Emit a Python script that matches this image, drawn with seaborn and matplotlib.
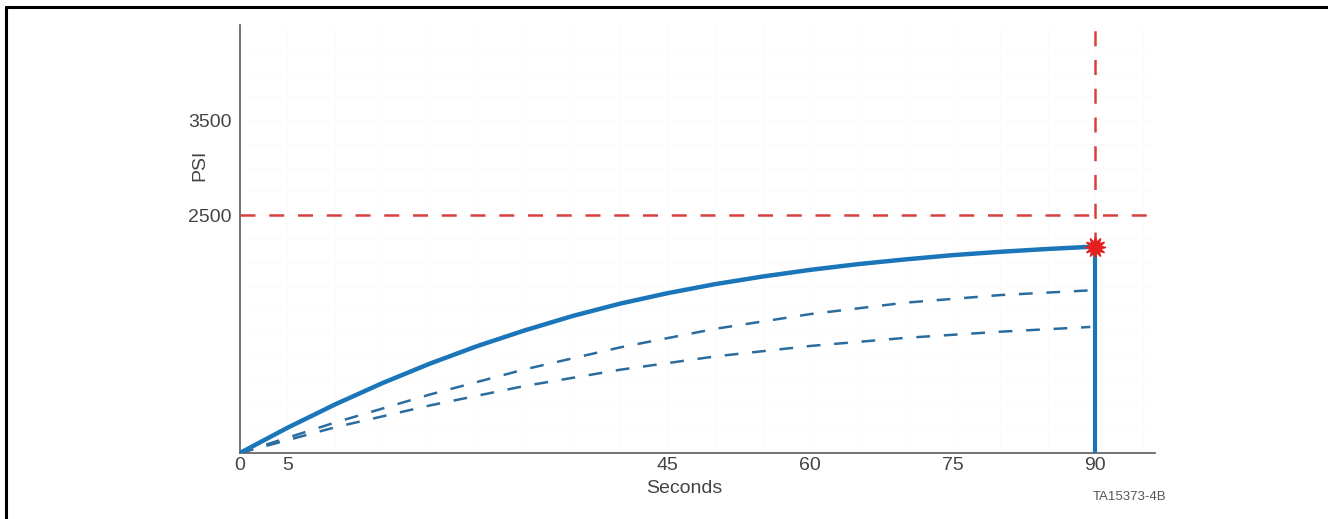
import numpy as np
import pandas as pd
import seaborn as sns
import matplotlib.pyplot as plt
from matplotlib.lines import Line2D

# values
solid_sec = [0, 5, 10, 15, 20, 25, 30, 35, 40, 45, 50, 55, 60, 65, 70, 75, 80, 85, 90]
solid_psi = [0, 265, 510, 735, 940, 1125, 1290, 1440, 1570, 1680, 1775, 1855, 1925, 1985, 2035, 2080, 2115, 2145, 2170]

dash_sec = [0, 10, 20, 30, 40, 50, 60, 70, 80, 89.5]
upper_psi = [0, 320, 615, 880, 1110, 1305, 1460, 1580, 1660, 1710]
lower_psi = [0, 270, 500, 705, 875, 1015, 1125, 1210, 1275, 1325]

limit_psi = 2500
end_sec = 90
end_psi = 2170

x_ticks = [0, 5, 45, 60, 75, 90]
y_ticks = [2500, 3500]

BLUE = "#1a76b9"
DBLUE = "#2b6c9e"
RED = "#d8403f"
GREY = "#5a5a5a"


def main():
    sns.set_theme(style="white")
    plt.rcParams["font.family"] = ["Liberation Sans", "DejaVu Sans"]

    fig = plt.figure(figsize=(13.28, 5.19), dpi=100)
    ax = fig.add_axes([0.1807, 0.1272, 0.689, 0.8247])

    # barely visible background grid
    for yv in np.arange(250, 4500, 250):
        ax.axhline(yv, color="#fbfbfb", lw=0.6, zorder=0)
    for xv in np.arange(5, 96, 5):
        ax.axvline(xv, color="#fbfbfb", lw=0.6, zorder=0)

    df_solid = pd.DataFrame({"sec": solid_sec, "psi": solid_psi})
    df_up = pd.DataFrame({"sec": dash_sec, "psi": upper_psi})
    df_lo = pd.DataFrame({"sec": dash_sec, "psi": lower_psi})

    sns.lineplot(data=df_up, x="sec", y="psi", ax=ax, color=DBLUE, lw=1.8,
                 zorder=3).lines[-1].set_dashes((5.5, 5.5))
    sns.lineplot(data=df_lo, x="sec", y="psi", ax=ax, color=DBLUE, lw=1.8,
                 zorder=3).lines[-1].set_dashes((5.5, 5.5))
    sns.lineplot(data=df_solid, x="sec", y="psi", ax=ax, color=BLUE, lw=3.2, zorder=4)
    ax.lines[-1].set_solid_joinstyle("round")

    # vertical drop at the end of the test
    ax.plot([end_sec, end_sec], [0, end_psi], color=BLUE, lw=3.0, zorder=4,
            solid_capstyle="butt")

    # red limit lines
    ax.plot([0, 96.3], [limit_psi, limit_psi], color=RED, lw=1.8, dashes=(6, 5.5), zorder=2)
    ax.plot([end_sec, end_sec], [end_psi, 4580], color=RED, lw=1.8, dashes=(6, 5.5),
            zorder=2, clip_on=False)
    ax.plot([end_sec], [end_psi], marker=(12, 1, 0), markersize=15, color="#e3201f",
            markeredgecolor="#e3201f", zorder=5, clip_on=False)

    ax.set_xlim(0, 96.3)
    ax.set_ylim(0, 4500)
    ax.set_xticks(x_ticks)
    ax.set_yticks(y_ticks)
    ax.tick_params(axis="both", length=0, labelsize=14, labelcolor="#444444")
    ax.tick_params(axis="x", pad=3)
    ax.tick_params(axis="y", pad=6)
    ax.set_xlabel("")
    ax.set_ylabel("")
    sns.despine(ax=ax)
    for side in ("left", "bottom"):
        ax.spines[side].set_color(GREY)
        ax.spines[side].set_linewidth(1.2)

    ax.text(0.486, -0.082, "Seconds", transform=ax.transAxes, ha="center", va="center",
            fontsize=14, color="#444444")
    ax.text(-0.044, 0.673, "PSI", transform=ax.transAxes, ha="center", va="center",
            rotation=90, fontsize=14, color="#444444")
    fig.text(1130 / 1328, 1 - 497 / 519, "TA15373-4B", ha="center", va="center",
             fontsize=9.5, color="#555555")

    # frame on the top and left edge of the page
    fig.add_artist(Line2D([6 / 1328, 1], [1 - 7 / 519, 1 - 7 / 519], color="black", lw=2.2,
                          transform=fig.transFigure))
    fig.add_artist(Line2D([6 / 1328, 6 / 1328], [0, 1 - 7 / 519], color="black", lw=2.2,
                          transform=fig.transFigure))

    fig.savefig("out.png", dpi=100)
    plt.close(fig)


if __name__ == "__main__":
    main()
